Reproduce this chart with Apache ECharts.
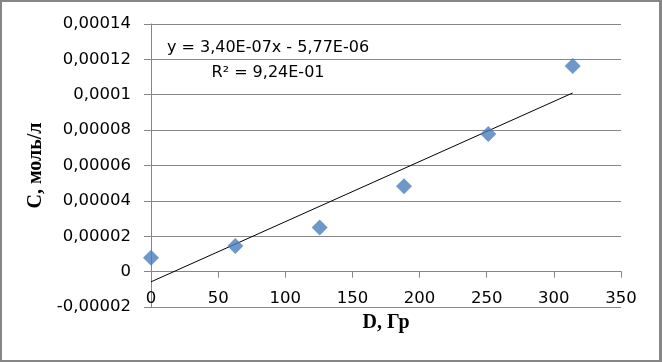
<!DOCTYPE html>
<html>
<head>
<meta charset="utf-8">
<script src="https://cdn.jsdelivr.net/npm/echarts@6/dist/echarts.min.js"></script>
<style>
  html, body { margin: 0; padding: 0; background: #fff; }
  #wrap { position: absolute; left: 0; top: 0; width: 662px; height: 362px; box-sizing: border-box;
          border-left: 2px solid #868686; border-top: 2px solid #868686;
          border-right: 3px solid #868686; border-bottom: 2px solid #868686; }
  #chart { position: absolute; left: 0; top: 0; width: 662px; height: 362px; }
</style>
</head>
<body>
<div id="chart"></div>
<div id="wrap"></div>
<script>
// Data
const doseX = [0, 62.8, 125.6, 188.4, 251.2, 314];
const concY = [0.0000079, 0.0000145, 0.0000249, 0.0000482, 0.0000778, 0.0001163];
// Trendline endpoints (linear fit shown on chart)
const trendX = [0, 314];
const trendY = [-0.00000577, 0.000101];
// Axis settings / labels
const xTicks = [0, 50, 100, 150, 200, 250, 300, 350];
const yTickLabels = ['-0,00002', '0', '0,00002', '0,00004', '0,00006', '0,00008', '0,0001', '0,00012', '0,00014'];
const yTickValues = [-0.00002, 0, 0.00002, 0.00004, 0.00006, 0.00008, 0.0001, 0.00012, 0.00014];
const eqLine1 = 'y = 3,40E-07x - 5,77E-06';
const eqLine2 = 'R² = 9,24E-01';
const xTitle = 'D, Гр';
const yTitle = 'С, моль/л';

const gray = '#868686';
const tickFont = '"DejaVu Sans"';
const gridH = 283;
const ySteps = yTickValues.length - 1;

function yLabel(v) {
  let best = 0, bd = Infinity;
  yTickValues.forEach((t, i) => { const d = Math.abs(t - v); if (d < bd) { bd = d; best = i; } });
  return yTickLabels[best];
}

const chart = echarts.init(document.getElementById('chart'), null, { renderer: 'canvas' });
chart.setOption({
  animation: false,
  backgroundColor: '#ffffff',
  grid: { left: 151, top: 24, width: 470, height: gridH, containLabel: false, outerBoundsMode: 'none' },
  xAxis: {
    type: 'value', min: xTicks[0], max: xTicks[xTicks.length - 1], interval: 50,
    // axis sits on the y = 0 line (one step above the bottom of the plot)
    offset: -gridH / ySteps,
    axisLine: { show: true, onZero: false, lineStyle: { color: gray, width: 1 } },
    axisTick: { show: true, inside: false, length: 6, lineStyle: { color: gray } },
    axisLabel: { color: '#000', fontFamily: tickFont, fontSize: 16.5, margin: 19 },
    splitLine: { show: false },
    name: xTitle, nameLocation: 'middle', nameGap: 41,
    nameTextStyle: { fontFamily: '"Liberation Serif"', fontWeight: 'bold', fontSize: 20, color: '#000' }
  },
  yAxis: {
    type: 'value', min: -0.00002, max: 0.00014, interval: 0.00002,
    axisLine: { show: true, onZero: false, lineStyle: { color: gray, width: 1 } },
    axisTick: { show: true, inside: false, length: 7, lineStyle: { color: gray } },
    axisLabel: { color: '#000', fontFamily: tickFont, fontSize: 16.5, margin: 20, formatter: yLabel },
    splitLine: { show: true, lineStyle: { color: gray, width: 1 } },
    name: yTitle, nameLocation: 'middle', nameGap: 94, nameRotate: 90,
    nameTextStyle: { fontFamily: '"Liberation Serif"', fontWeight: 'bold', fontSize: 20, color: '#000' }
  },
  series: [
    {
      type: 'line',
      data: trendX.map((x, i) => [x, trendY[i]]),
      symbol: 'none',
      lineStyle: { color: '#000', width: 1 },
      z: 2
    },
    {
      type: 'scatter',
      data: doseX.map((x, i) => [x, concY[i]]),
      symbol: 'diamond',
      symbolSize: 16,
      itemStyle: { color: '#4A7EBB' },
      z: 3
    }
  ],
  graphic: [
    { type: 'text', x: 268, y: 48, style: { text: eqLine1, font: '16px "DejaVu Sans"', fill: '#000', textAlign: 'center', textVerticalAlign: 'middle' }, z: 10 },
    { type: 'text', x: 268, y: 73, style: { text: eqLine2, font: '16px "DejaVu Sans"', fill: '#000', textAlign: 'center', textVerticalAlign: 'middle' }, z: 10 }
  ]
});
</script>
</body>
</html>
